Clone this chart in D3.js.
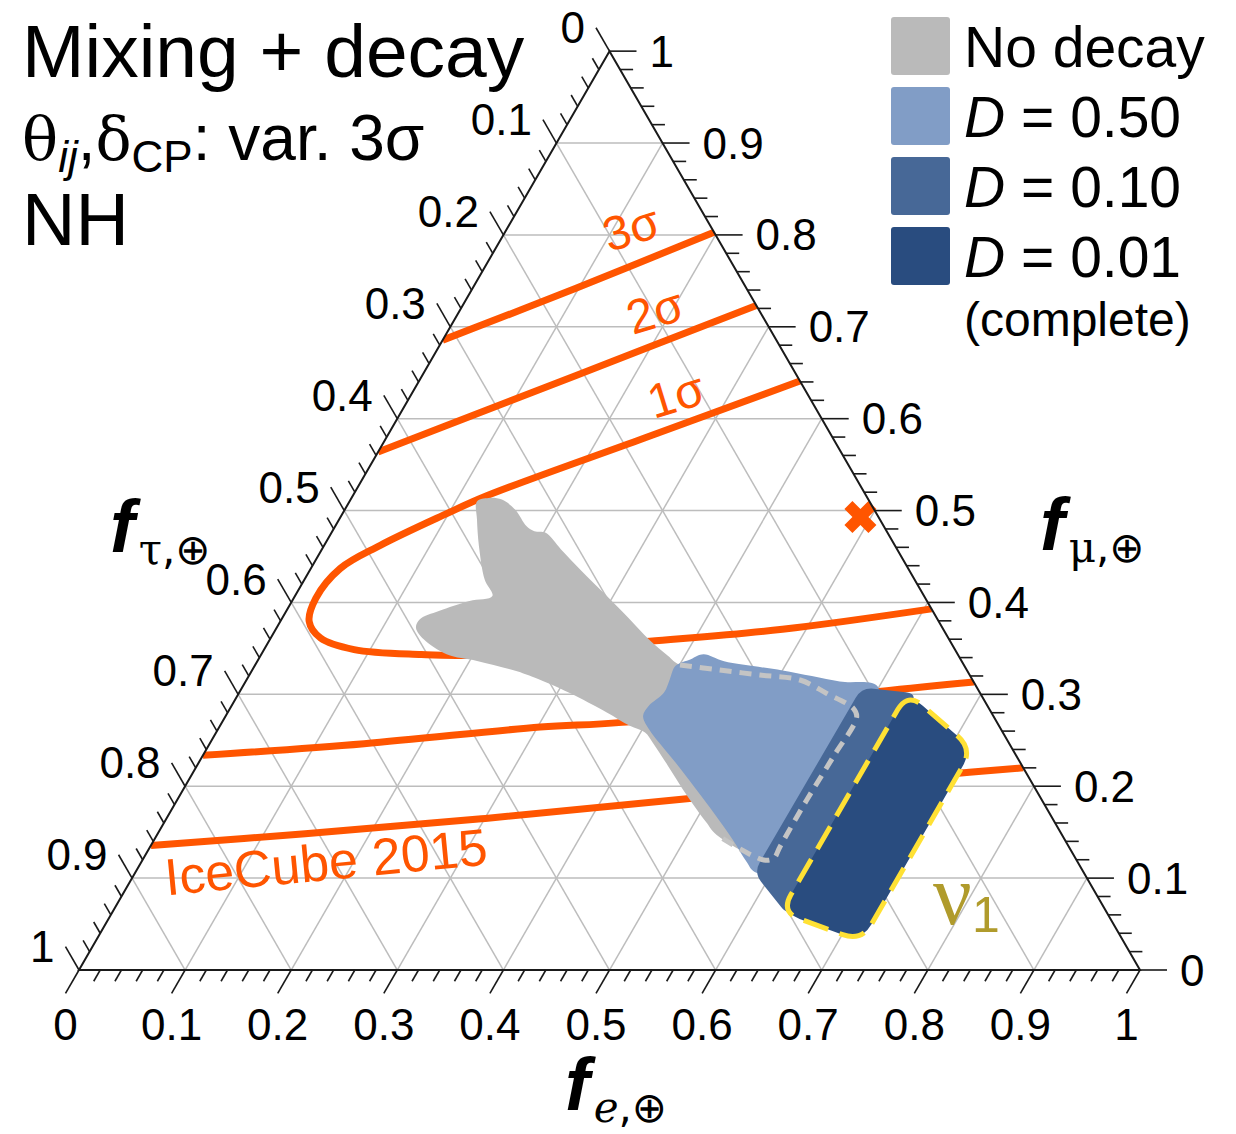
<!DOCTYPE html>
<html>
<head>
<meta charset="utf-8">
<script src="https://cdn.jsdelivr.net/npm/d3@7"></script>
<style>
body { margin: 0; background: #fff; }
text { font-family: "Liberation Sans", Arial, sans-serif; }
</style>
</head>
<body>
<svg id="chart" width="1236" height="1134"></svg>
<script>
// ---- data (ternary coordinates: [f_e, f_mu], f_tau = 1 - f_e - f_mu) ----
const tickValues = [0, 0.1, 0.2, 0.3, 0.4, 0.5, 0.6, 0.7, 0.8, 0.9, 1];
const tickLabels = ["0", "0.1", "0.2", "0.3", "0.4", "0.5", "0.6", "0.7", "0.8", "0.9", "1"];

// IceCube 2015 contours
const sigma3Upper = [[0, 0.6855], [0.097, 0.7416], [0.197, 0.803]];
const sigma3Lower = [[0, 0.1356], [0.139, 0.1483], [0.297, 0.1646], [0.4797, 0.1864], [0.7316, 0.2152], [0.780, 0.220]];
const sigma2Upper = [[0, 0.5637], [0.1445, 0.6468], [0.2767, 0.7233]];
const sigma2Lower = [[0, 0.2336], [0.1456, 0.2463], [0.3026, 0.2644], [0.377, 0.2695], [0.6026, 0.303], [0.6866, 0.3134]];
const sigma1 = [[0.359, 0.641], [0.243, 0.5787], [0.1267, 0.5163], [0.0955, 0.4947], [0.0529, 0.4622],
  [0.0277, 0.437], [0.0209, 0.4045], [0.0273, 0.3793], [0.047, 0.3613], [0.085, 0.3487], [0.151, 0.3433],
  [0.198, 0.3425], [0.359, 0.3577], [0.4776, 0.3708], [0.607, 0.393]];
const bestFit = [0.49, 0.493];

// "No decay" region: visible outline, then the part that lies under the decay regions
const noDecayOuter = [[0.5276, 0.1469], [0.5105, 0.161], [0.478, 0.19], [0.4438, 0.2224], [0.4168, 0.2477],
  [0.4042, 0.2586], [0.3862, 0.2658], [0.3573, 0.2803], [0.3105, 0.302], [0.27, 0.3183], [0.2484, 0.3256],
  [0.207, 0.3364], [0.1746, 0.3437], [0.1449, 0.36], [0.1313, 0.3726], [0.1304, 0.3817], [0.1438, 0.3907],
  [0.1672, 0.4016], [0.1861, 0.407], [0.1698, 0.4251], [0.1463, 0.4613], [0.130, 0.4902], [0.1201, 0.510],
  [0.1291, 0.5138], [0.1426, 0.512], [0.1606, 0.501], [0.1804, 0.483], [0.1904, 0.4776], [0.202, 0.4758],
  [0.2255, 0.4577], [0.2543, 0.436], [0.294, 0.407], [0.3282, 0.3817], [0.357, 0.36], [0.384, 0.342]];
const noDecayHidden = [[0.4005, 0.3319], [0.44, 0.3265], [0.4813, 0.321], [0.5218, 0.3156], [0.5542, 0.301],
  [0.5874, 0.2848], [0.5952, 0.2756], [0.5949, 0.2321], [0.5934, 0.185], [0.5936, 0.1342], [0.594, 0.1215],
  [0.5855, 0.1197], [0.5276, 0.1469]];

// decay regions
const decay050 = [[0.4168, 0.3435], [0.44, 0.336], [0.50, 0.326], [0.56, 0.314], [0.60, 0.307], [0.60, 0.107],
  [0.583, 0.107], [0.570, 0.118], [0.545, 0.142], [0.512, 0.1717], [0.449, 0.226], [0.406, 0.2622],
  [0.3933, 0.2767], [0.3933, 0.2876], [0.4004, 0.302], [0.3986, 0.3165], [0.3968, 0.331], [0.4076, 0.3382]];
const decay010 = [[0.584, 0.3075], [0.64, 0.301], [0.64, 0.058], [0.583, 0.106]];
const decay001 = [[0.63, 0.302], [0.722, 0.2405], [0.722, 0.031], [0.63, 0.063]];

const legendLabels = ["No decay", "0.50", "0.10", "0.01"];
const legendColors = ["#bababa", "#819dc6", "#476897", "#294c7f"];

// ---- layout ----
const svg = d3.select('#chart');
const side = 1061, left = 79, base = 970;
const h = side * Math.sqrt(3) / 2;
const xs = d3.scaleLinear().domain([0, 1]).range([0, side]);
const ys = d3.scaleLinear().domain([0, 1]).range([base, base - h]);
const pt = d => [left + xs(d[0]) + xs(d[1]) / 2, ys(d[1])];

const orange = '#ff5500';

svg.append('defs').append('clipPath').attr('id', 'tri')
  .append('path').attr('d', d3.line()([pt([0, 0]), pt([1, 0]), pt([0, 1])]) + 'Z');

// grid
const gridVals = tickValues.slice(1, 10);
const gridLines = [];
gridVals.forEach(v => {
  gridLines.push([[0, v], [1 - v, v]]);
  gridLines.push([[v, 0], [v, 1 - v]]);
  gridLines.push([[1 - v, 0], [0, 1 - v]]);
});
svg.append('g')
  .selectAll('line')
  .data(gridLines)
  .enter()
  .append('line')
  .attr('x1', d => pt(d[0])[0]).attr('y1', d => pt(d[0])[1])
  .attr('x2', d => pt(d[1])[0]).attr('y2', d => pt(d[1])[1])
  .attr('stroke', '#bdbdbd')
  .attr('stroke-width', 1.5);

// contours
const lineGen = d3.line().x(d => pt(d)[0]).y(d => pt(d)[1]).curve(d3.curveCatmullRom.alpha(0.5));
svg.append('g')
  .attr('clip-path', 'url(#tri)')
  .selectAll('path')
  .data([sigma3Upper, sigma3Lower, sigma2Upper, sigma2Lower, sigma1])
  .enter()
  .append('path')
  .attr('d', lineGen)
  .attr('fill', 'none')
  .attr('stroke', orange)
  .attr('stroke-width', 7);

// contour labels
const sigmaLabels = [
  { t: '3σ', p: [0.1166, 0.8074] },
  { t: '2σ', p: [0.1843, 0.7171] },
  { t: '1σ', p: [0.2498, 0.6257] }
];
svg.append('g')
  .selectAll('text')
  .data(sigmaLabels)
  .enter()
  .append('text')
  .attr('transform', d => 'translate(' + pt(d.p)[0] + ',' + pt(d.p)[1] + ') rotate(-17)')
  .attr('text-anchor', 'middle')
  .attr('dominant-baseline', 'central')
  .attr('font-size', 48)
  .attr('fill', orange)
  .text(d => d.t);

const icPos = pt([0.174, 0.1175]);
svg.append('text')
  .attr('transform', 'translate(' + icPos[0] + ',' + icPos[1] + ') rotate(-5.5)')
  .attr('text-anchor', 'middle')
  .attr('dominant-baseline', 'central')
  .attr('font-size', 52)
  .attr('fill', orange)
  .text('IceCube 2015');

// best fit marker
const bf = pt(bestFit);
svg.append('path')
  .attr('d', d3.symbol(d3.symbolCross, 640)())
  .attr('transform', 'translate(' + bf[0] + ',' + bf[1] + ') rotate(45)')
  .attr('fill', orange);

// regions
const closedGen = d3.line().x(d => pt(d)[0]).y(d => pt(d)[1]).curve(d3.curveCatmullRomClosed.alpha(0.5));
svg.append('path')
  .attr('d', closedGen(noDecayOuter.concat(noDecayHidden.slice(0, -1))))
  .attr('fill', legendColors[0]);

svg.append('path')
  .attr('d', closedGen(decay050))
  .attr('fill', legendColors[1]);

function rounded(points, r) {
  const p = d3.path();
  const P = points.map(pt);
  const n = P.length;
  const toward = (a, b) => {
    const dx = b[0] - a[0], dy = b[1] - a[1], L = Math.hypot(dx, dy);
    return [a[0] + dx / L * r, a[1] + dy / L * r];
  };
  for (let i = 0; i < n; i++) {
    const prev = P[(i - 1 + n) % n], cur = P[i], next = P[(i + 1) % n];
    const a = toward(cur, prev), b = toward(cur, next);
    if (i === 0) p.moveTo(a[0], a[1]); else p.lineTo(a[0], a[1]);
    p.quadraticCurveTo(cur[0], cur[1], b[0], b[1]);
  }
  p.closePath();
  return p.toString();
}

svg.append('path')
  .attr('d', rounded(decay010, 12))
  .attr('fill', legendColors[2]);

svg.append('path')
  .attr('d', lineGen(noDecayHidden))
  .attr('fill', 'none')
  .attr('stroke', '#c4c4c4')
  .attr('stroke-width', 5)
  .attr('stroke-dasharray', '12 8');

svg.append('path')
  .attr('d', rounded(decay001, 20))
  .attr('fill', legendColors[3])
  .attr('stroke', '#ffe134')
  .attr('stroke-width', 5)
  .attr('stroke-dasharray', '26 12');

const nuPos = pt([0.78, 0.05]);
const nu = svg.append('text')
  .attr('x', nuPos[0]).attr('y', nuPos[1])
  .attr('fill', '#b09b2c')
  .style('font-family', '"Liberation Serif", "DejaVu Serif", serif');
nu.append('tspan').attr('font-size', 86).text('ν');
nu.append('tspan').attr('font-size', 50).attr('dy', 8).style('font-family', '"Liberation Sans", Arial, sans-serif').text('1');

// triangle frame
svg.append('path')
  .attr('d', d3.line()([pt([0, 0]), pt([1, 0]), pt([0, 1])]) + 'Z')
  .attr('fill', 'none')
  .attr('stroke', '#1a1a1a')
  .attr('stroke-width', 2);

// ticks
const minor = d3.range(0, 51).map(i => ({ v: i / 50, major: i % 5 === 0 }));
const c30 = 0.5, s60 = Math.sqrt(3) / 2;
const axes = [
  { at: v => pt([v, 0]), dir: [-c30, s60] },          // f_e, bottom
  { at: v => pt([1 - v, v]), dir: [1, 0] },            // f_mu, right
  { at: v => pt([0, 1 - v]), dir: [-c30, -s60] }       // f_tau, left
];
const tickG = svg.append('g').attr('stroke', '#1a1a1a').attr('stroke-width', 1.6);
axes.forEach(ax => {
  tickG.selectAll(null)
    .data(minor)
    .enter()
    .append('line')
    .attr('x1', d => ax.at(d.v)[0])
    .attr('y1', d => ax.at(d.v)[1])
    .attr('x2', d => ax.at(d.v)[0] + ax.dir[0] * (d.major ? 27 : 13))
    .attr('y2', d => ax.at(d.v)[1] + ax.dir[1] * (d.major ? 27 : 13));
});

const labelG = svg.append('g').attr('font-size', 44).attr('fill', '#000');
labelG.selectAll(null)
  .data(tickValues)
  .enter()
  .append('text')
  .attr('x', v => axes[0].at(v)[0] + axes[0].dir[0] * 27)
  .attr('y', v => axes[0].at(v)[1] + axes[0].dir[1] * 27 + 47)
  .attr('text-anchor', 'middle')
  .text((v, i) => tickLabels[i]);
labelG.selectAll(null)
  .data(tickValues)
  .enter()
  .append('text')
  .attr('x', v => axes[1].at(v)[0] + 40)
  .attr('y', v => axes[1].at(v)[1])
  .attr('dominant-baseline', 'central')
  .text((v, i) => tickLabels[i]);
labelG.selectAll(null)
  .data(tickValues)
  .enter()
  .append('text')
  .attr('x', v => axes[2].at(v)[0] + axes[2].dir[0] * 27 - 11)
  .attr('y', v => axes[2].at(v)[1] + axes[2].dir[1] * 27)
  .attr('text-anchor', 'end')
  .attr('dominant-baseline', 'central')
  .text((v, i) => tickLabels[i]);

// axis titles
const axisTitles = [
  { sub: 'e', x: 565, y: 1110, italicSub: true },
  { sub: 'μ', x: 1040, y: 550, italicSub: false },
  { sub: 'τ', x: 110, y: 552, italicSub: false }
];
axisTitles.forEach(a => {
  const t = svg.append('text').attr('x', a.x).attr('y', a.y);
  t.append('tspan').attr('font-size', 74).attr('font-weight', 'bold').attr('font-style', 'italic').text('f');
  t.append('tspan').attr('font-size', 42).attr('dy', 12).attr('dx', 4)
    .attr('font-style', a.italicSub ? 'italic' : 'normal')
    .style('font-family', '"DejaVu Serif", serif').text(a.sub);
  t.append('tspan').attr('font-size', 42).style('font-family', '"DejaVu Sans", sans-serif').text(',⊕');
});

// title block
svg.append('text').attr('x', 22).attr('y', 77).attr('font-size', 75).text('Mixing + decay');
const t2 = svg.append('text').attr('x', 22).attr('y', 160).attr('font-size', 64);
t2.append('tspan').style('font-family', '"DejaVu Serif", serif').attr('font-size', 60).text('θ');
t2.append('tspan').attr('font-size', 44).attr('font-style', 'italic').attr('dy', 12).text('ij');
t2.append('tspan').attr('dy', -12).text(',');
t2.append('tspan').style('font-family', '"DejaVu Serif", serif').attr('font-size', 60).text('δ');
t2.append('tspan').attr('font-size', 44).attr('dy', 12).text('CP');
t2.append('tspan').attr('dy', -12).text(': var. 3σ');
svg.append('text').attr('x', 22).attr('y', 245).attr('font-size', 74).text('NH');

// legend
const legend = svg.append('g');
legend.selectAll('rect')
  .data(legendColors)
  .enter()
  .append('rect')
  .attr('x', 891).attr('y', (d, i) => 17 + i * 70)
  .attr('width', 59).attr('height', 58)
  .attr('rx', 3)
  .attr('fill', d => d);
legendLabels.forEach((l, i) => {
  const t = legend.append('text').attr('x', 964).attr('y', 67 + i * 70).attr('font-size', 57);
  if (i === 0) { t.text(l); return; }
  t.append('tspan').attr('font-style', 'italic').text('D');
  t.append('tspan').text(' = ' + l);
});
legend.append('text').attr('x', 964).attr('y', 336).attr('font-size', 48).text('(complete)');
</script>
</body>
</html>
